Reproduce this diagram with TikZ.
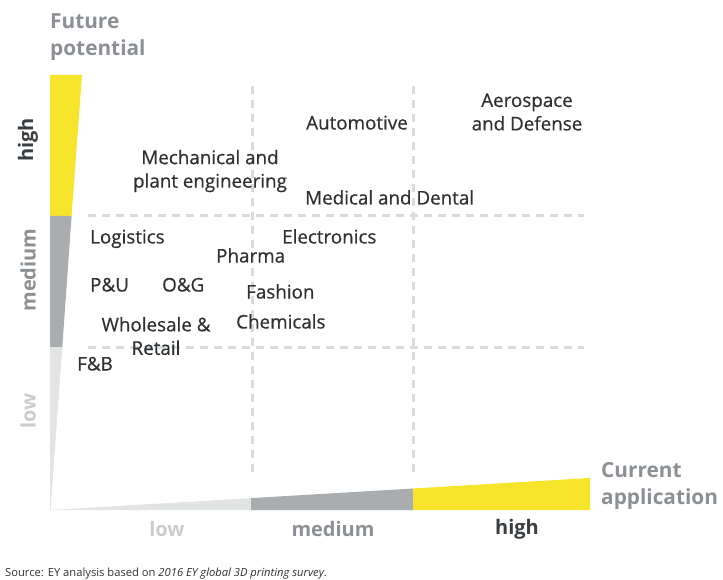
\documentclass[tikz,border=0pt]{standalone}
\usepackage{fontspec}
\setmainfont{Open Sans}
\newfontfamily\sectorfont[FakeBold=0.6]{Open Sans}
\definecolor{eyyellow}{HTML}{F6E52B}
\definecolor{midgray}{HTML}{A9ADB0}
\definecolor{lightgray}{HTML}{E3E4E4}
\definecolor{gridgray}{HTML}{DADBDC}
\definecolor{labeldark}{HTML}{3A3E41}
\definecolor{labelmid}{HTML}{8C9094}
\definecolor{labellight}{HTML}{C9CBCC}
\definecolor{textdark}{HTML}{2E3133}
\begin{document}
\begin{tikzpicture}[x=1pt,y=-1pt,
  grid/.style={gridgray,line width=3pt,dash pattern=on 8pt off 6pt},
  sector/.style={text=textdark,font=\sectorfont\fontsize{18.8}{23.5}\selectfont,align=center,inner sep=0pt},
  oneline/.style={sector,text height=15pt,text depth=0pt},
  axistitle/.style={text=labelmid,font=\fontsize{20.8}{26.5}\selectfont\bfseries,align=left,inner sep=0pt},
  axislevel/.style={font=\fontsize{20}{24}\selectfont\bfseries,inner sep=0pt}]
\useasboundingbox (0,0) rectangle (723,580);

% grid of dashed lines
\coordinate (v1t) at (252,86);  \coordinate (v1b) at (252,478);
\coordinate (v2t) at (413,86);  \coordinate (v2b) at (413,478);
\coordinate (h1l) at (88,216);  \coordinate (h1r) at (584,216);
\coordinate (h2l) at (88,347);  \coordinate (h2r) at (584,347);
\draw[grid] (v1t) -- (v1b);
\draw[grid] (v2t) -- (v2b);
\draw[grid] (h1l) -- (h1r);
\draw[grid] (h2l) -- (h2r);

% vertical axis wedge
\fill[eyyellow] (50,75) -- (82,75) -- (71.6,216) -- (50,216) -- cycle;
\fill[midgray] (50,216) -- (71.6,216) -- (62.3,347) -- (50,347) -- cycle;
\fill[lightgray] (50,347) -- (62.3,347) -- (50.5,510) -- (50,510) -- cycle;

% horizontal axis wedge
\fill[lightgray] (50,510) -- (251,510) -- (251,498.1) -- cycle;
\fill[midgray] (251,510) -- (413,510) -- (413,488.5) -- (251,498.1) -- cycle;
\fill[eyyellow] (413,510) -- (590,510) -- (590,478) -- (413,488.5) -- cycle;

% axis titles
\node[axistitle,anchor=west] (ytitle) at (50,37) {Future\\potential};
\node[axistitle,anchor=west] (xtitle) at (601,486) {Current\\application};

% level labels
\node[axislevel,text=labeldark,rotate=90] (yhigh) at (28,140) {high};
\node[axislevel,text=labelmid,rotate=90] (ymed) at (28,270) {medium};
\node[axislevel,text=labellight,rotate=90] (ylow) at (28,411) {low};
\node[axislevel,text=labellight] (xlow) at (167,529) {low};
\node[axislevel,text=labelmid] (xmed) at (333,529) {medium};
\node[axislevel,text=labeldark] (xhigh) at (517,529) {high};

% sectors
\node[oneline] (auto) at (357,122) {Automotive};
\node[sector] (aero) at (527,112) {Aerospace\\and Defense};
\node[sector] (mech) at (210,171) {Mechanical and\\plant engineering};
\node[oneline,anchor=west] (med) at (305,197) {Medical and Dental};
\node[oneline,anchor=west] (log) at (90,236) {Logistics};
\node[oneline,anchor=west] (elec) at (282,236) {Electronics};
\node[oneline,anchor=west] (pharma) at (216,255) {Pharma};
\node[oneline,anchor=west] (pu) at (90,284) {P\&U};
\node[oneline,anchor=west] (og) at (162,284) {O\&G};
\node[oneline,anchor=west] (fash) at (246,291) {Fashion};
\node[sector] (whole) at (156,336) {Wholesale \&\\Retail};
\node[oneline,anchor=west] (chem) at (236,321) {Chemicals};
\node[oneline,anchor=west] (fb) at (77,363) {F\&B};

% source line
\node[anchor=west,inner sep=0pt,text=textdark,font=\fontsize{11.2}{13}\selectfont] (src) at (5,574)
  {Source: EY analysis based on \textit{2016 EY global 3D printing survey}.};
\end{tikzpicture}
\end{document}
